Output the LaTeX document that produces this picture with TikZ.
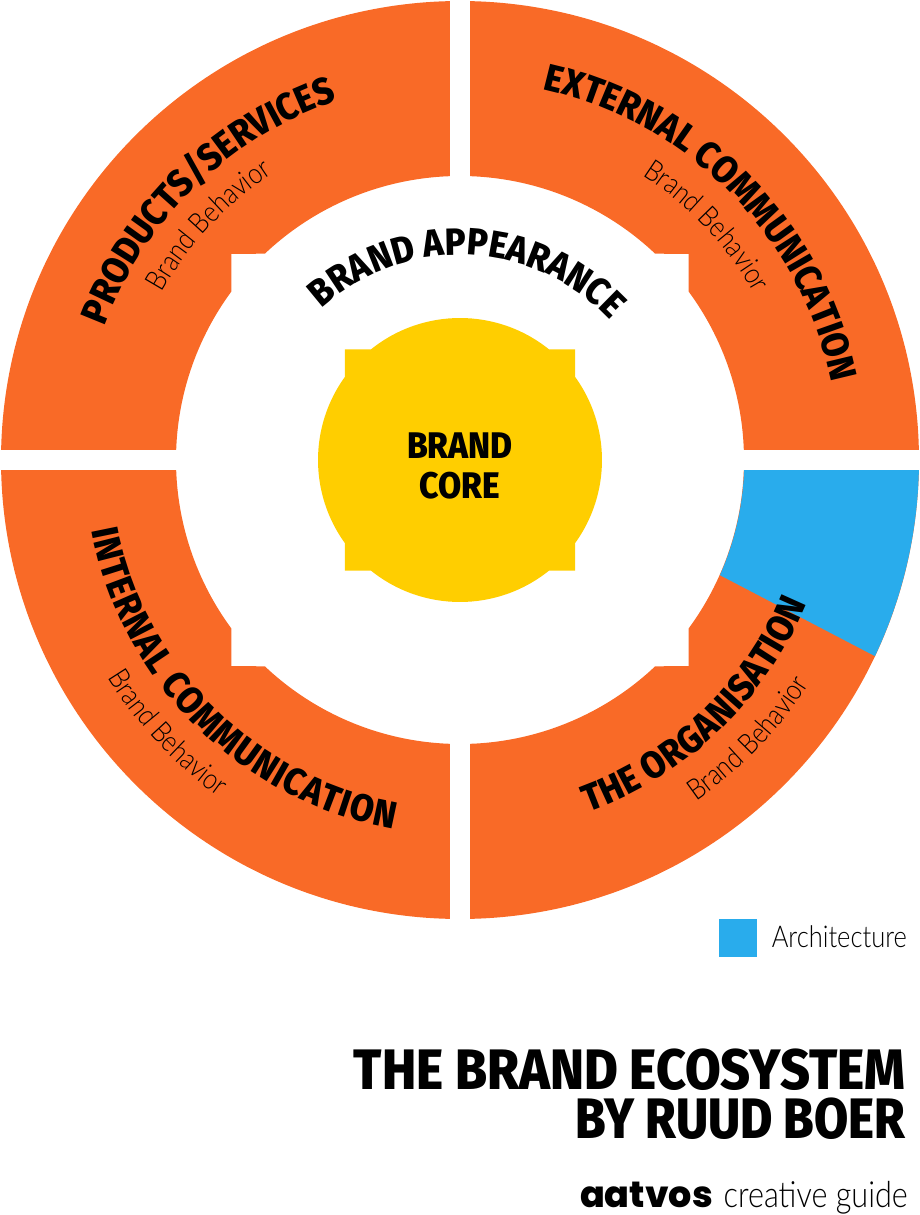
\documentclass[tikz,border=0pt]{standalone}
\usepackage{fontspec}
\usetikzlibrary{decorations.text}
\newfontfamily\headfont[FakeStretch=0.908]{Fira Sans ExtraBold}
\newfontfamily\bylinefont[FakeStretch=0.869]{Fira Sans ExtraBold}
\newfontfamily\thinfont[FakeStretch=0.85]{Lato Light}
\newfontfamily\logofont{Poppins ExtraBold}
\newcommand{\ringfont}{\headfont\fontsize{38}{38}\selectfont}
\newcommand{\subfont}{\thinfont\fontsize{29}{29}\selectfont}
\definecolor{ringorange}{HTML}{F96A27}
\definecolor{archblue}{HTML}{29ACEC}
\definecolor{coreyellow}{HTML}{FFCE00}
\tikzset{
    ringlabel/.style={decorate,decoration={text along path,text align={fit to path},text={|\ringfont|#1}}},
    sublabel/.style={decorate,decoration={text along path,text align=center,text={|\subfont|#1}}},
}

\begin{document}
\begin{tikzpicture}[x=1pt,y=1pt]
                \useasboundingbox (-460,-755) rectangle (460,460);
                \foreach \sx/\sy in {1/1,-1/1,-1/-1,1/-1} {
                    \fill[ringorange,xscale=\sx,yscale=\sy] (88.75:459) arc[start angle=88.75,end angle=1.25,radius=459] -- (2.02:284) arc[start angle=2.02,end angle=36.4,radius=284] -- (228.7,206) -- (46.6:284) arc[start angle=46.6,end angle=87.98,radius=284] -- cycle;
                }
                \fill[archblue] (-1.25:459) arc[start angle=-1.25,end angle=-25.3,radius=459] -- (-23.9:284.3) arc[start angle=-23.9,end angle=-2.02,radius=284.3] -- cycle;
                \fill[coreyellow] (-35.9:142) arc[start angle=-35.9,end angle=35.9,radius=142] -- (115,110.7) -- (51.2:142) arc[start angle=51.2,end angle=128.8,radius=142] -- (-115,110.7) -- (144.1:142) arc[start angle=144.1,end angle=215.9,radius=142] -- (-115,-110.7) -- (231.2:142) arc[start angle=231.2,end angle=308.8,radius=142] -- (115,-110.7) -- cycle;

                \path[ringlabel={BRAND APPEARANCE}] (132.4:205) arc[start angle=132.4,end angle=44.7,radius=205];
                \path[ringlabel={PRODUCTS/SERVICES}] (159.4:380) arc[start angle=159.4,end angle=109.7,radius=380];
                \path[ringlabel={EXTERNAL COMMUNICATION}] (77.4:380) arc[start angle=77.4,end angle=11.9,radius=380];
                \path[ringlabel={INTERNAL COMMUNICATION}] (190.8:375) arc[start angle=190.8,end angle=259.7,radius=375];
                \path[ringlabel={THE ORGANISATION}] (290:375) arc[start angle=290,end angle=337.5,radius=375];

                \path[sublabel={Brand Behavior}] (167:342) arc[start angle=167,end angle=107,radius=342];
                \path[sublabel={Brand Behavior}] (73.5:338) arc[start angle=73.5,end angle=13.5,radius=338];
                \path[sublabel={Brand Behavior}] (193:414) arc[start angle=193,end angle=253,radius=414];
                \path[sublabel={Brand Behavior}] (286:415) arc[start angle=286,end angle=346,radius=415];

                \node (core) at (0,-6) [align=center,font=\fontsize{37}{40}\headfont\selectfont] {BRAND\\CORE};

                \fill[archblue] (259,-459) rectangle (297,-497);
                \node (archlabel) at (447,-487) [anchor=base east,inner sep=0pt,font=\thinfont\fontsize{30}{30}\selectfont] {Architecture};
                \node (titleone) at (445.5,-629) [anchor=base east,inner sep=0pt,font=\headfont\fontsize{57}{57}\selectfont] {THE BRAND ECOSYSTEM};
                \node (titletwo) at (445.5,-678) [anchor=base east,inner sep=0pt,font=\bylinefont\fontsize{57}{57}\selectfont] {BY RUUD BOER};
                \node (guide) at (448,-747) [anchor=base east,inner sep=0pt,font=\thinfont\fontsize{36}{36}\selectfont] {creative guide};
                \node (brand) at (253,-747) [anchor=base east,inner sep=0pt,font=\logofont\fontsize{36.5}{36.5}\selectfont] {aatvos};
            \end{tikzpicture}
\end{document}
